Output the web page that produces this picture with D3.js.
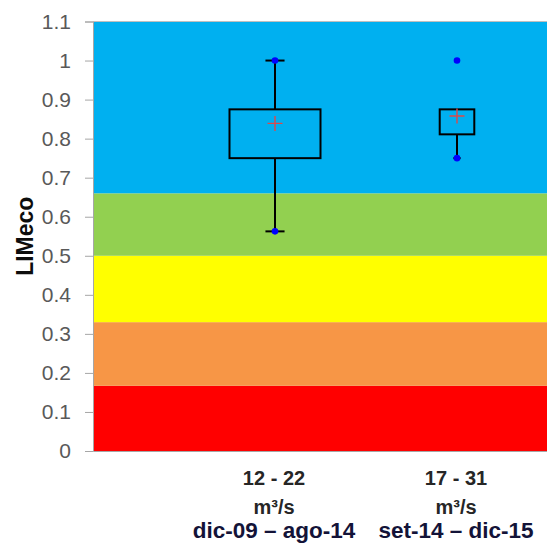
<!DOCTYPE html>
<html>
<head>
<meta charset="utf-8">
<script src="https://cdn.jsdelivr.net/npm/d3@7"></script>
<style>
  html, body { margin: 0; padding: 0; background: #fff; }
  svg { display: block; }
</style>
</head>
<body>
<svg id="chart" width="547" height="546"></svg>
<script>
// ---- data ----
const flowRanges = ["12 - 22", "17 - 31"];
const flowUnits = ["m³/s", "m³/s"];
const periods = ["dic-09 – ago-14", "set-14 – dic-15"];
const catPos = [1, 2];
const q1 = [0.75, 0.811];
const q3 = [0.875, 0.875];
const means = [0.839, 0.858];
const whiskerLow = [0.5625, 0.75];
const whiskerHigh = [1.0, 0.875];
const minVals = [0.5625, 0.75];
const maxVals = [1.0, 1.0];
const boxWidths = [0.5, 0.19];

const yTicks = [0, 0.1, 0.2, 0.3, 0.4, 0.5, 0.6, 0.7, 0.8, 0.9, 1, 1.1];
const yTickLabels = ["0", "0.1", "0.2", "0.3", "0.4", "0.5", "0.6", "0.7", "0.8", "0.9", "1", "1.1"];

const bandLow = [0, 0.167, 0.33, 0.5, 0.66];
const bandHigh = [0.167, 0.33, 0.5, 0.66, 1.1];
const bandColors = ["#FF0000", "#F79646", "#FFFF00", "#92D050", "#00B0F0"];

const yTitle = "LIMeco";

// ---- layout ----
const svg = d3.select("#chart");
const plotLeft = 93, plotTop = 21.5, plotBottom = 451;
const x = d3.scaleLinear().domain([0, 3]).range([plotLeft, plotLeft + 546]);
const y = d3.scaleLinear().domain([0, 1.1]).range([plotBottom, plotTop]);

// bands
svg.append("g").selectAll("rect").data(bandLow).join("rect")
  .attr("x", x(0))
  .attr("width", x(3) - x(0))
  .attr("y", (d, i) => y(bandHigh[i]))
  .attr("height", (d, i) => y(d) - y(bandHigh[i]))
  .attr("fill", (d, i) => bandColors[i]);

// plot border (top)
svg.append("line").attr("x1", x(0)).attr("x2", x(3)).attr("y1", y(1.1)).attr("y2", y(1.1))
  .attr("stroke", "#BFBFBF").attr("stroke-width", 1);

// y axis
const yAxis = d3.axisLeft(y).tickValues(yTicks)
  .tickFormat((d, i) => yTickLabels[i]).tickSize(8).tickPadding(14);
const gy = svg.append("g").attr("transform", `translate(${plotLeft},0)`).call(yAxis);
gy.select(".domain").attr("stroke", "#A6A6A6");
gy.selectAll(".tick line").attr("stroke", "#A6A6A6");
gy.selectAll(".tick text")
  .attr("font-family", "'Liberation Sans', Arial, sans-serif")
  .attr("font-size", 21).attr("fill", "#595959");

// x axis line
const xAxis = d3.axisBottom(x).tickValues([]).tickSize(0);
const gx = svg.append("g").attr("transform", `translate(0,${plotBottom})`).call(xAxis);
gx.select(".domain").attr("stroke", "#A6A6A6");

// y title
svg.append("text")
  .attr("transform", `translate(33,${(y(0) + y(1.1)) / 2}) rotate(-90)`)
  .attr("text-anchor", "middle")
  .attr("font-family", "'Liberation Sans', Arial, sans-serif")
  .attr("font-weight", "bold").attr("font-size", 23).attr("fill", "#0D0D0D")
  .text(yTitle);

// boxes
const boxes = svg.append("g");
catPos.forEach((c, i) => {
  const cx = x(c);
  const hw = (x(boxWidths[i]) - x(0)) / 2;
  const cap = hw * 0.21;
  boxes.append("line").attr("x1", cx).attr("x2", cx)
    .attr("y1", y(q3[i])).attr("y2", y(whiskerHigh[i]))
    .attr("stroke", "#000").attr("stroke-width", 2);
  boxes.append("line").attr("x1", cx).attr("x2", cx)
    .attr("y1", y(q1[i])).attr("y2", y(whiskerLow[i]))
    .attr("stroke", "#000").attr("stroke-width", 2);
  [whiskerHigh[i], whiskerLow[i]].forEach(v => {
    if (v !== q3[i] && v !== q1[i]) {
      boxes.append("line").attr("x1", cx - cap).attr("x2", cx + cap)
        .attr("y1", y(v)).attr("y2", y(v))
        .attr("stroke", "#000").attr("stroke-width", 2);
    }
  });
  boxes.append("rect").attr("x", cx - hw).attr("width", 2 * hw)
    .attr("y", y(q3[i])).attr("height", y(q1[i]) - y(q3[i]))
    .attr("fill", "none").attr("stroke", "#000").attr("stroke-width", 2);
  const m = 7.5;
  boxes.append("path")
    .attr("d", `M${cx - m},${y(means[i])}H${cx + m}M${cx},${y(means[i]) - m}V${y(means[i]) + m}`)
    .attr("stroke", "#E04848").attr("stroke-width", 1.4).attr("fill", "none");
  [minVals[i], maxVals[i]].forEach(v => {
    boxes.append("circle").attr("cx", cx).attr("cy", y(v)).attr("r", 3.3).attr("fill", "#0000FF");
  });
});

// category labels
const lab = svg.append("g").attr("font-family", "'Liberation Sans', Arial, sans-serif")
  .attr("font-weight", "bold").attr("text-anchor", "middle");
catPos.forEach((c, i) => {
  const cx = x(c) - 1;
  lab.append("text").attr("x", cx).attr("y", 485).attr("font-size", 20).attr("fill", "#262626")
    .text(flowRanges[i]);
  lab.append("text").attr("x", cx).attr("y", 514).attr("font-size", 20).attr("fill", "#262626")
    .text(flowUnits[i]);
  lab.append("text").attr("x", cx).attr("y", 538).attr("font-size", 22.5).attr("fill", "#131338")
    .text(periods[i]);
});
</script>
</body>
</html>
